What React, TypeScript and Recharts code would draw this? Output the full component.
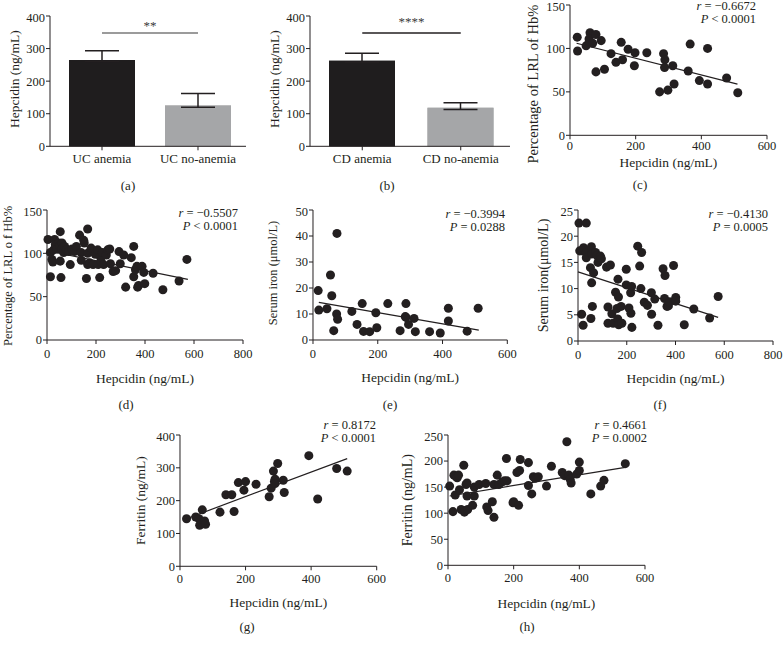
import React from 'react'
import {
    BarChart, Bar, Cell, ErrorBar, XAxis, YAxis, ZAxis,
    ScatterChart, Scatter, ReferenceLine, Label,
} from 'recharts'

const FONT = '"Liberation Serif", "Times New Roman", Tinos, serif'
const INK = '#231f20'

// (a) UC groups
const UC_CATS = ['UC anemia', 'UC no-anemia']
const UC_MEANS = [265, 125]
const UC_SEM = [28, 37]
// (b) CD groups
const CD_CATS = ['CD anemia', 'CD no-anemia']
const CD_MEANS = [263, 118]
const CD_SEM = [23, 16]
const BAR_FILLS = ['#1f1d1e', '#a5a6a8']
const BAR_TICKS = [0, 100, 200, 300, 400]

// (c) hepcidin vs LRL of Hb%, UC
const HEPC_C = [22, 23, 49, 61, 58, 59, 69, 79, 95, 79, 105, 125, 140, 156, 160, 177, 198, 196, 234, 273, 285, 289, 288, 298, 313, 317, 360, 366, 394, 419, 419, 477, 511]
const LRL_C = [113, 97, 103, 118, 111, 108, 106, 116, 109, 73, 76, 94, 84, 107, 87, 99, 95, 80, 95, 50, 94, 87, 78, 52, 80, 59, 74, 105, 63, 59, 100, 66, 49]
const FIT_C_X = [20, 510]
const FIT_C_Y = [106, 59]

// (d) hepcidin vs LRL of Hb%, CD
const HEPC_D = [4, 14, 14, 20, 24, 27, 31, 34, 41, 48, 52, 54, 54, 57, 61, 61, 68, 72, 79, 88, 95, 102, 112, 120, 133, 139, 140, 150, 152, 161, 166, 166, 166, 174, 180, 188, 197, 207, 209, 215, 218, 220, 226, 231, 242, 248, 256, 259, 270, 280, 294, 299, 313, 321, 344, 354, 354, 361, 367, 370, 374, 388, 395, 399, 433, 473, 539, 571]
const LRL_D = [116, 73, 101, 93, 90, 104, 116, 110, 105, 112, 108, 125, 91, 72, 112, 105, 101, 108, 104, 102, 87, 105, 102, 108, 121, 101, 92, 115, 112, 71, 128, 100, 87, 89, 106, 87, 99, 104, 87, 72, 96, 91, 101, 87, 98, 104, 105, 88, 79, 80, 102, 88, 98, 61, 95, 108, 73, 81, 85, 61, 63, 85, 78, 65, 77, 58, 68, 93]
const FIT_D_X = [0, 575]
const FIT_D_Y = [103, 70]

// (e) hepcidin vs serum iron, UC
const HEPC_E = [16, 18, 43, 54, 58, 64, 74, 73, 76, 120, 136, 152, 156, 175, 194, 197, 231, 269, 287, 285, 287, 295, 312, 316, 360, 393, 418, 418, 476, 510]
const IRON_E = [19, 11.5, 12, 25, 17, 3.6, 41, 10, 8, 11, 6, 14, 3.3, 3.2, 10.5, 4.7, 14, 3.6, 14, 9, 8.7, 6, 8.3, 3.2, 3.2, 2.7, 12.2, 7.3, 3.4, 12.2]
const FIT_E_X = [18, 512]
const FIT_E_Y = [14.5, 3.8]

// (f) hepcidin vs serum iron, CD
const HEPC_F = [4, 34, 7, 23, 18, 34, 34, 55, 56, 72, 78, 82, 92, 96, 51, 64, 56, 15, 21, 53, 59, 117, 133, 164, 123, 123, 144, 139, 154, 160, 166, 163, 167, 177, 180, 198, 198, 209, 216, 220, 217, 221, 245, 253, 261, 258, 272, 285, 301, 302, 315, 328, 349, 357, 355, 365, 371, 376, 392, 401, 401, 436, 475, 540, 575]
const IRON_F = [22.5, 22.5, 17.2, 17.8, 17.2, 16.9, 15.9, 18, 16.6, 16.9, 16.3, 15, 16.2, 15.7, 14, 13, 11.1, 5.1, 3, 4.3, 6.6, 14.1, 14.5, 11.8, 6.5, 3.4, 3.4, 5.2, 9.3, 6.2, 8.4, 4.2, 3.1, 6.6, 3.4, 13.7, 10.7, 6.3, 9.2, 10.4, 5.3, 2.6, 18.1, 14.3, 16.9, 10, 7.4, 6.8, 9.2, 5.1, 8, 3, 13.8, 12.5, 8.1, 6.6, 6.7, 7.5, 14.4, 8.3, 7.6, 3.1, 6.1, 4.4, 8.5]
const FIT_F_X = [0, 575]
const FIT_F_Y = [13.2, 4.5]

// (g) hepcidin vs ferritin, UC
const HEPC_G = [20, 48, 58, 60, 68, 75, 78, 122, 140, 158, 165, 178, 195, 200, 232, 272, 278, 285, 288, 290, 290, 298, 315, 318, 393, 420, 478, 510]
const FERR_G = [145, 150, 145, 125, 172, 138, 128, 165, 218, 218, 167, 255, 232, 258, 250, 212, 238, 290, 258, 265, 252, 313, 262, 225, 337, 205, 298, 290]
const FIT_G_X = [20, 510]
const FIT_G_Y = [145, 328]

// (h) hepcidin vs ferritin, CD
const HEPC_H = [5, 15, 18, 22, 25, 28, 32, 35, 40, 48, 50, 52, 55, 58, 58, 60, 75, 80, 80, 95, 115, 118, 122, 135, 140, 140, 150, 155, 165, 172, 178, 180, 198, 200, 210, 215, 218, 220, 245, 245, 255, 260, 265, 275, 300, 315, 348, 355, 362, 368, 372, 375, 392, 400, 400, 435, 465, 475, 540]
const FERR_H = [152, 103, 173, 135, 170, 168, 173, 145, 107, 192, 102, 105, 155, 158, 133, 107, 115, 150, 133, 155, 157, 112, 105, 122, 92, 155, 173, 155, 160, 162, 205, 162, 120, 122, 178, 115, 182, 203, 197, 153, 137, 170, 167, 170, 152, 190, 178, 172, 237, 173, 165, 158, 175, 182, 198, 137, 152, 163, 195]
const FIT_H_X = [5, 540]
const FIT_H_Y = [133, 188]

const AXIS_W = 55
const MT = 6
const MR = 10

type Rect = { left: number; top: number; width: number; height: number }

const tickStyle = (size: number) => ({ fill: INK, fontSize: size, fontFamily: FONT, fontWeight: 400 })

// rotated y-axis title, placed `dist` px left of the axis line
function yTitle(value: string, dist: number, size: number, shift = 0) {
    return (props: any) => {
        const vb = props.viewBox
        const x = vb.x + vb.width - dist
        const y = vb.y + vb.height / 2 + shift
        return (
            <text x={x} y={y} transform={`rotate(-90, ${x}, ${y})`} textAnchor="middle"
                dominantBaseline="central" fill={INK} stroke="none" fontSize={size} fontFamily={FONT}>
                {value}
            </text>
        )
    }
}

// x-axis title, centred `dist` px below the axis line
function xTitle(value: string, dist: number) {
    return (props: any) => {
        const vb = props.viewBox
        return (
            <text x={vb.x + vb.width / 2} y={vb.y + dist} textAnchor="middle" dominantBaseline="central"
                fill={INK} stroke="none" fontSize={13.5} fontFamily={FONT}>
                {value}
            </text>
        )
    }
}

interface ScatterProps {
    plot: Rect
    xTicks: number[]
    yTicks: number[]
    xs: number[]
    ys: number[]
    fitX: number[]
    fitY: number[]
    yLabel: string
    yLabelSize: number
    yLabelDist: number
    yLabelShift?: number
    xLabelDist: number
    tickGap: number
}

function ScatterPanel(p: ScatterProps) {
    const data = p.xs.map((x, i) => ({ x, y: p.ys[i] }))
    const axisH = p.xLabelDist + 10
    const width = AXIS_W + p.plot.width + MR
    const height = MT + p.plot.height + axisH
    const xMax = p.xTicks[p.xTicks.length - 1]
    const yMax = p.yTicks[p.yTicks.length - 1]
    return (
        <div style={{ position: 'absolute', left: p.plot.left - AXIS_W, top: p.plot.top - MT }}>
            <ScatterChart width={width} height={height} margin={{ top: MT, right: MR, left: 0, bottom: 0 }}>
                <XAxis
                    type="number" dataKey="x" domain={[0, xMax]} ticks={p.xTicks}
                    height={axisH} stroke={INK} tickSize={4} tickMargin={p.tickGap}
                    tick={tickStyle(12.5)}
                >
                    <Label content={xTitle('Hepcidin (ng/mL)', p.xLabelDist)} />
                </XAxis>
                <YAxis
                    type="number" dataKey="y" domain={[0, yMax]} ticks={p.yTicks}
                    width={AXIS_W} stroke={INK} tickSize={4} tickMargin={1}
                    tick={tickStyle(12.5)}
                >
                    <Label content={yTitle(p.yLabel, p.yLabelDist, p.yLabelSize, p.yLabelShift)} />
                </YAxis>
                <ZAxis range={[40, 40]} />
                <Scatter data={data} fill={INK} isAnimationActive={false} />
                <ReferenceLine
                    segment={[{ x: p.fitX[0], y: p.fitY[0] }, { x: p.fitX[1], y: p.fitY[1] }]}
                    stroke={INK} strokeWidth={1.2}
                />
            </ScatterChart>
        </div>
    )
}

interface BarProps {
    plot: Rect
    cats: string[]
    means: number[]
    sem: number[]
    padLeft: number
    sigY: number
    sigColor: string
    stars: string
    starOffset: number
}

function BarPanel(p: BarProps) {
    // whisker starts a little inside the bar; a second copy of the bar is drawn over it
    const data = p.cats.map((name, i) => ({ name, mean: p.means[i], cover: p.means[i], err: [5, p.sem[i]] }))
    const width = AXIS_W + p.plot.width + MR
    const height = MT + p.plot.height + 30
    return (
        <div style={{ position: 'absolute', left: p.plot.left - AXIS_W, top: p.plot.top - MT }}>
            <BarChart width={width} height={height} data={data} barGap={-66}
                margin={{ top: MT, right: MR, left: 0, bottom: 0 }}>
                <XAxis dataKey="name" height={30} stroke={INK} tickSize={4} tickMargin={3}
                    padding={{ left: p.padLeft, right: 0 }} tick={tickStyle(13)} />
                <YAxis domain={[0, 400]} ticks={BAR_TICKS} width={AXIS_W} stroke={INK}
                    tickSize={4} tickMargin={1} tick={tickStyle(12.5)}>
                    <Label content={yTitle('Hepcidin (ng/mL)', 35, 13.5, -2)} />
                </YAxis>
                <Bar dataKey="mean" barSize={66} isAnimationActive={false}>
                    {data.map((d, i) => <Cell key={d.name} fill={BAR_FILLS[i]} />)}
                    <ErrorBar dataKey="err" direction="y" width={17} stroke={INK} strokeWidth={1.5} />
                </Bar>
                <Bar dataKey="cover" barSize={66} isAnimationActive={false}>
                    {data.map((d, i) => <Cell key={d.name} fill={BAR_FILLS[i]} />)}
                </Bar>
                <ReferenceLine
                    segment={[{ x: p.cats[0], y: p.sigY }, { x: p.cats[1], y: p.sigY }]}
                    stroke={p.sigColor} strokeWidth={1.5}
                >
                    <Label value={p.stars} position="top" offset={p.starOffset}
                        style={{ fill: '#3a3a3a', fontSize: 13, fontFamily: FONT, stroke: 'none' }} />
                </ReferenceLine>
            </BarChart>
        </div>
    )
}

function Stat({ right, top, r, pv }: { right: number; top: number; r: string; pv: string }) {
    return (
        <div style={{
            position: 'absolute', left: right - 120, top, width: 120, textAlign: 'right',
            fontFamily: FONT, fontSize: 12.5, lineHeight: '13px', color: INK, whiteSpace: 'nowrap',
        }}>
            <div><i>r</i> = {r}</div>
            <div><i>P</i> {pv}</div>
        </div>
    )
}

function Caption({ cx, cy, text }: { cx: number; cy: number; text: string }) {
    return (
        <div style={{
            position: 'absolute', left: cx - 20, top: cy - 8, width: 40, textAlign: 'center',
            fontFamily: FONT, fontSize: 13, lineHeight: '16px', color: INK,
        }}>{text}</div>
    )
}

export default function App() {
    return (
        <div style={{ position: 'absolute', left: 0, top: 0, width: 784, height: 646, background: '#fff', overflow: 'hidden' }}>
            <BarPanel plot={{ left: 50, top: 15.7, width: 196, height: 130.3 }} cats={UC_CATS} means={UC_MEANS} sem={UC_SEM}
                padLeft={4} sigY={348} sigColor="#7a7a7a" stars="**" starOffset={3} />
            <BarPanel plot={{ left: 310, top: 15.7, width: 200, height: 130.3 }} cats={CD_CATS} means={CD_MEANS} sem={CD_SEM}
                padLeft={3} sigY={348} sigColor={INK} stars="****" starOffset={7} />

            <ScatterPanel plot={{ left: 570, top: 4.7, width: 197, height: 130.3 }}
                xTicks={[0, 200, 400, 600]} yTicks={[0, 50, 100, 150]} xs={HEPC_C} ys={LRL_C}
                fitX={FIT_C_X} fitY={FIT_C_Y} yLabel="Percentage of LRL of Hb%" yLabelSize={14.5}
                yLabelDist={37} yLabelShift={14} xLabelDist={27} tickGap={2} />
            <ScatterPanel plot={{ left: 46.5, top: 210, width: 196, height: 130 }}
                xTicks={[0, 200, 400, 600, 800]} yTicks={[0, 50, 100, 150]} xs={HEPC_D} ys={LRL_D}
                fitX={FIT_D_X} fitY={FIT_D_Y} yLabel="Percentage of LRL o f Hb%" yLabelSize={12.5}
                yLabelDist={39.5} yLabelShift={1} xLabelDist={38} tickGap={5} />
            <ScatterPanel plot={{ left: 312.7, top: 210, width: 194.3, height: 130 }}
                xTicks={[0, 200, 400, 600]} yTicks={[0, 10, 20, 30, 40, 50]} xs={HEPC_E} ys={IRON_E}
                fitX={FIT_E_X} fitY={FIT_E_Y} yLabel="Serum iron (μmol/L)" yLabelSize={12.5}
                yLabelDist={39.5} yLabelShift={-2} xLabelDist={38} tickGap={5} />
            <ScatterPanel plot={{ left: 578, top: 210, width: 195, height: 131 }}
                xTicks={[0, 200, 400, 600, 800]} yTicks={[0, 5, 10, 15, 20, 25]} xs={HEPC_F} ys={IRON_F}
                fitX={FIT_F_X} fitY={FIT_F_Y} yLabel="Serum iron(μmol/L)" yLabelSize={14}
                yLabelDist={35} xLabelDist={37} tickGap={5} />
            <ScatterPanel plot={{ left: 180, top: 434.7, width: 196.7, height: 131.3 }}
                xTicks={[0, 200, 400, 600]} yTicks={[0, 100, 200, 300, 400]} xs={HEPC_G} ys={FERR_G}
                fitX={FIT_G_X} fitY={FIT_G_Y} yLabel="Ferritin (ng/mL)" yLabelSize={13.5}
                yLabelDist={39} xLabelDist={36} tickGap={4} />
            <ScatterPanel plot={{ left: 448, top: 434.7, width: 197, height: 130.3 }}
                xTicks={[0, 200, 400, 600]} yTicks={[0, 50, 100, 150, 200, 250]} xs={HEPC_H} ys={FERR_H}
                fitX={FIT_H_X} fitY={FIT_H_Y} yLabel="Ferritin (ng/mL)" yLabelSize={14}
                yLabelDist={40} xLabelDist={38} tickGap={4} />

            <Stat right={756} top={-0.5} r="−0.6672" pv="< 0.0001" />
            <Stat right={238} top={206.5} r="−0.5507" pv="< 0.0001" />
            <Stat right={505} top={207.5} r="−0.3994" pv="= 0.0288" />
            <Stat right={768} top={207.5} r="−0.4130" pv="= 0.0005" />
            <Stat right={376} top={418.5} r="0.8172" pv="< 0.0001" />
            <Stat right={647} top={418.5} r="0.4661" pv="= 0.0002" />

            <Caption cx={128} cy={186} text="(a)" />
            <Caption cx={387} cy={186} text="(b)" />
            <Caption cx={640} cy={185} text="(c)" />
            <Caption cx={126} cy={405} text="(d)" />
            <Caption cx={390} cy={405} text="(e)" />
            <Caption cx={660} cy={405} text="(f)" />
            <Caption cx={247} cy={627} text="(g)" />
            <Caption cx={527} cy={627} text="(h)" />
        </div>
    )
}
